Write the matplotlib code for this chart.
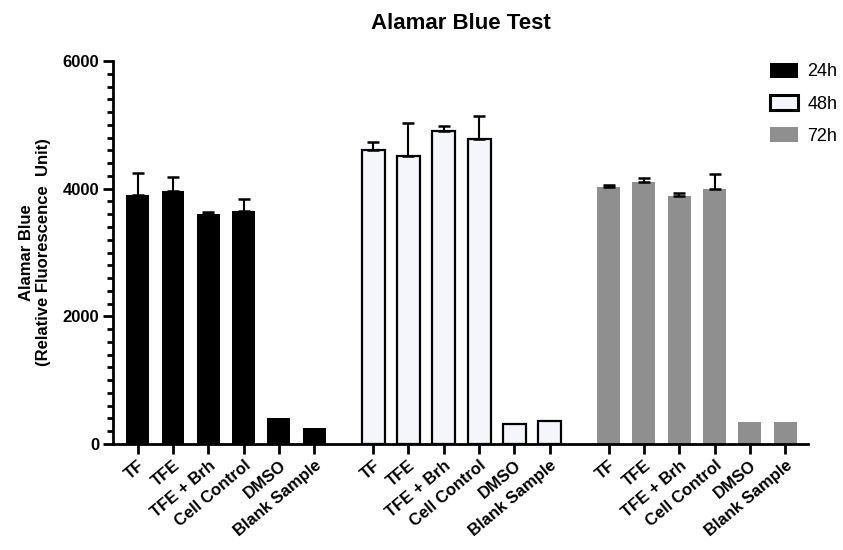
import matplotlib
matplotlib.use("Agg")
import matplotlib.pyplot as plt
import numpy as np
from matplotlib.patches import Patch

plt.rcParams['font.family'] = ['Liberation Sans', 'DejaVu Sans']

categories = ["TF", "TFE", "TFE + Brh", "Cell Control", "DMSO", "Blank Sample"]
series_names = ["24h", "48h", "72h"]
means_24h = [3900, 3970, 3600, 3655, 400, 255]
err_24h = [340, 210, 40, 185, 0, 0]
means_48h = [4600, 4505, 4910, 4775, 313, 360]
err_48h = [130, 530, 75, 360, 0, 0]
means_72h = [4020, 4100, 3890, 3990, 340, 340]
err_72h = [40, 70, 35, 245, 0, 0]

means = [means_24h, means_48h, means_72h]
errs = [err_24h, err_48h, err_72h]
faces = ["#000000", "#f4f6fc", "#8f8f8f"]
edges = ["#000000", "#000000", "#8f8f8f"]
lws = [0, 1.6, 0]

fig = plt.figure(figsize=(8.43, 5.5), dpi=100)
ax = fig.add_axes([0.134, 0.1927, 0.9585 - 0.134, 0.889 - 0.1927])

group_gap = 6 + 2 / 3
width = 0.65
xticks = []
xlabels = []
for g in range(3):
    x = np.arange(len(categories)) + g * group_gap
    ax.bar(x, means[g], width=width, color=faces[g], edgecolor=edges[g],
           linewidth=lws[g], zorder=2)
    e = np.array(errs[g])
    mask = e > 0
    ax.errorbar(x[mask], np.array(means[g])[mask],
                yerr=[np.zeros(mask.sum()), e[mask]], fmt='none',
                ecolor='black', elinewidth=1.5, capsize=4.5, capthick=1.8, zorder=3)
    xticks.extend(x)
    xlabels.extend(categories)

ax.set_xlim(-0.70, 18.98)
ax.set_ylim(0, 6000)
ax.set_xticks(xticks)
ax.set_xticklabels(xlabels, rotation=40, ha='right', rotation_mode='anchor',
                   fontsize=12, fontweight='bold')
ax.set_yticks([0, 2000, 4000, 6000])
ax.set_yticks(np.arange(0, 6001, 200), minor=True)
ax.set_yticklabels(["0", "2000", "4000", "6000"], fontsize=12, fontweight='bold')

for s in ['top', 'right']:
    ax.spines[s].set_visible(False)
for s in ['left', 'bottom']:
    ax.spines[s].set_linewidth(2)
ax.tick_params(axis='both', which='major', length=7, width=2, pad=3)
ax.tick_params(axis='y', which='minor', length=4.5, width=2)
ax.tick_params(axis='x', which='minor', length=0)

ax.set_ylabel("Alamar Blue\n(Relative Fluorescence  Unit)", fontsize=12,
              fontweight='bold', labelpad=8)
ax.set_title("Alamar Blue Test", fontsize=16, fontweight='bold', pad=23)

handles = [Patch(facecolor=faces[i], edgecolor=edges[i] if i != 1 else 'black',
                 linewidth=2.2 if i == 1 else 0) for i in range(3)]
fig.legend(handles, series_names, loc='upper left', bbox_to_anchor=(0.913, 0.886),
           frameon=False, fontsize=13, handlelength=1.55, handleheight=0.9,
           labelspacing=0.8, handletextpad=0.55, borderaxespad=0, borderpad=0)

fig.savefig("out.png", dpi=100)
